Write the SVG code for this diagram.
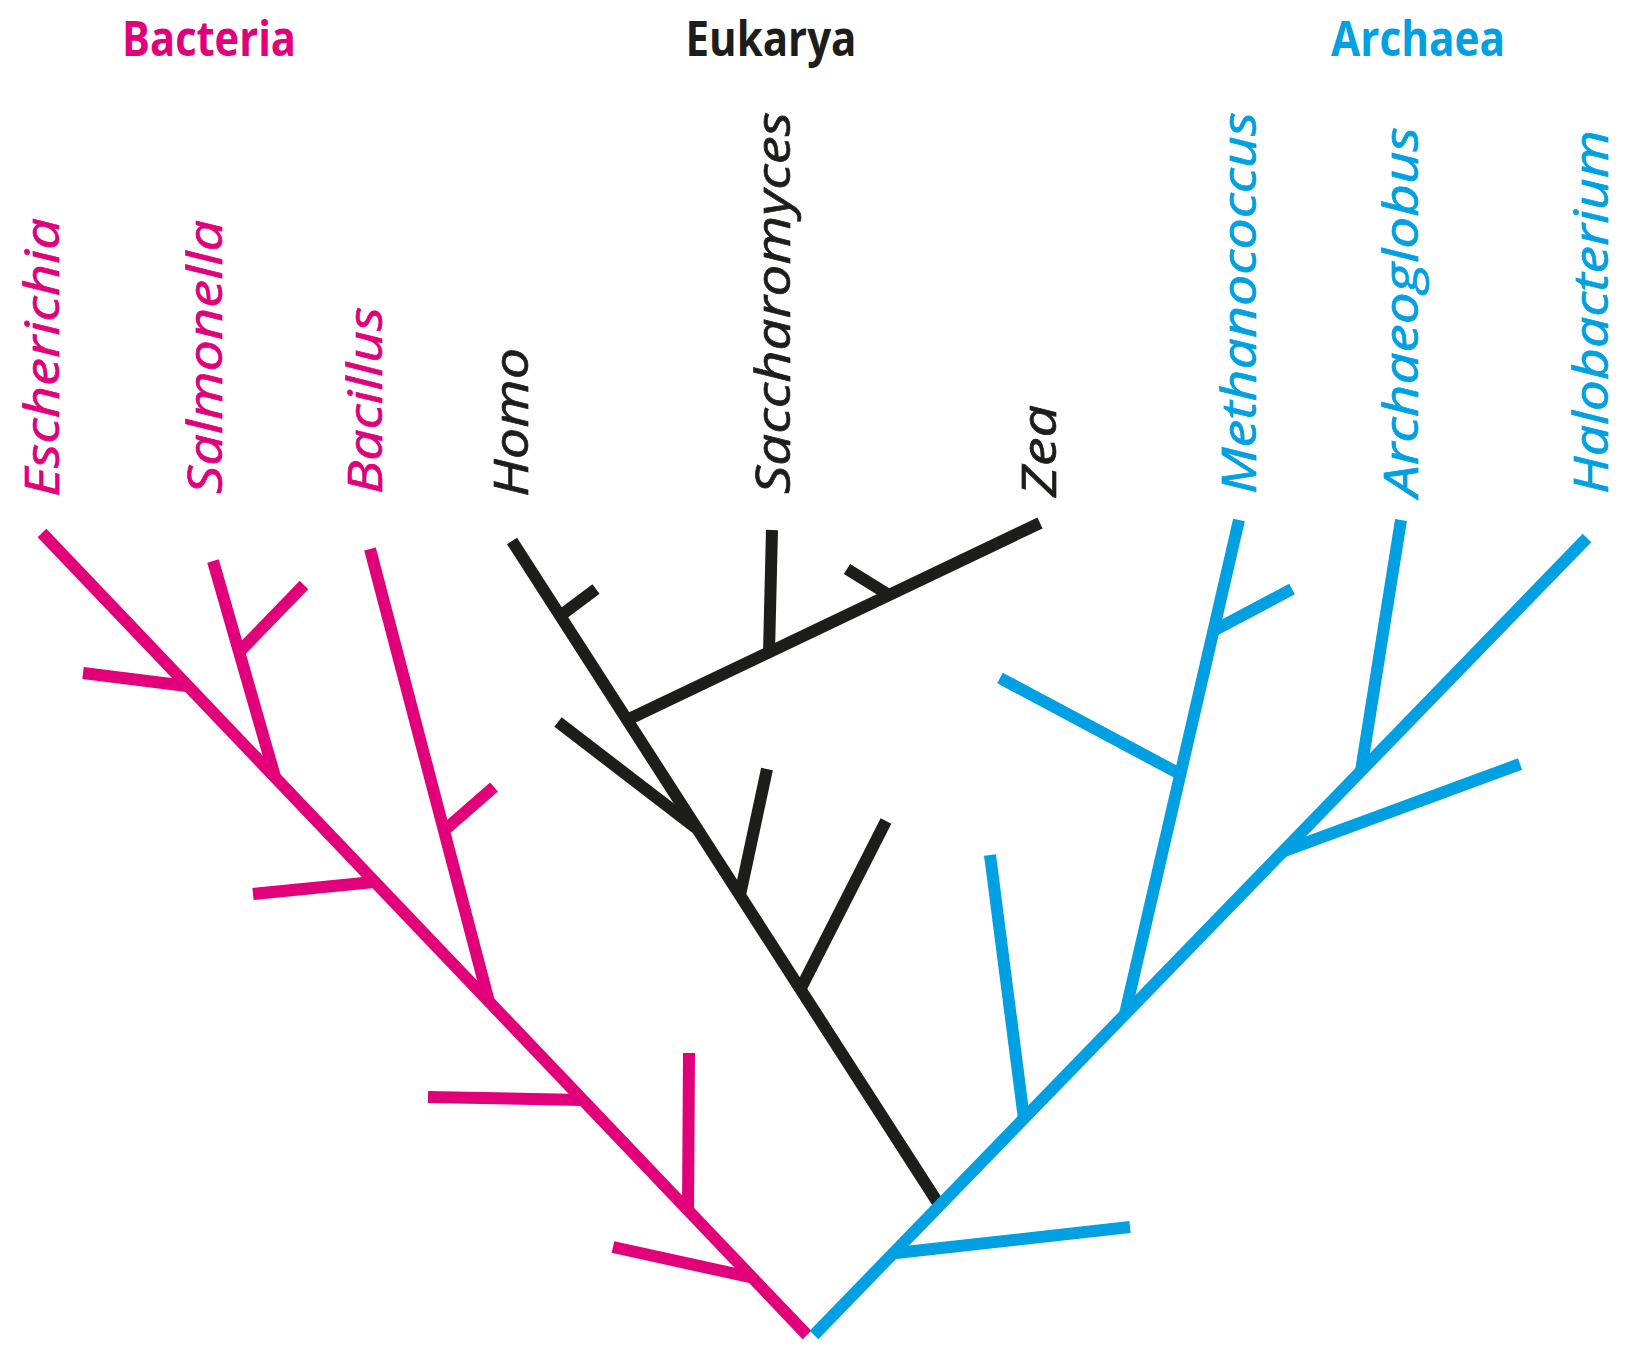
<svg xmlns="http://www.w3.org/2000/svg" width="1630" height="1351" viewBox="0 0 1630 1351">
<style>
.title{font-family:"Open Sans","Liberation Sans",sans-serif;font-weight:bold;font-size:48px;text-anchor:middle}
.taxon{font-family:"Open Sans","Liberation Sans",sans-serif;font-style:italic;font-size:48px;stroke-width:0.7}
.pink{fill:#E2007A;stroke:#E2007A}
.black{fill:#1D1D1B;stroke:#1D1D1B}
.blue{fill:#00A0E2;stroke:#00A0E2}
.title.pink,.title.black,.title.blue{stroke:none}
.br{fill:none;stroke-width:12;stroke-linecap:butt;stroke-linejoin:miter}
.bp{stroke:#E2007A}
.bk{stroke:#1D1D1B}
.bb{stroke:#00A0E2}
</style>
<rect width="1630" height="1351" fill="#ffffff"/>
<g id="connectors">
  <g id="bacteria-tree" class="br bp">
    <line x1="42" y1="533" x2="807" y2="1335"/>
    <line x1="83" y1="673" x2="187" y2="686"/>
    <line x1="213" y1="561" x2="275" y2="777"/>
    <line x1="241" y1="650" x2="304" y2="585"/>
    <line x1="253" y1="894" x2="374" y2="882"/>
    <line x1="370" y1="549" x2="489" y2="1002"/>
    <line x1="447" y1="828" x2="494" y2="787"/>
    <line x1="428" y1="1097" x2="582" y2="1100"/>
    <line x1="689" y1="1053" x2="688" y2="1210"/>
    <line x1="613" y1="1247" x2="754" y2="1278"/>
  </g>
  <g id="eukarya-tree" class="br bk">
    <line x1="512" y1="541" x2="938" y2="1203"/>
    <line x1="560" y1="616" x2="596" y2="589"/>
    <line x1="627" y1="720" x2="1040" y2="523"/>
    <line x1="772" y1="530" x2="769" y2="652"/>
    <line x1="847" y1="569" x2="889" y2="595"/>
    <line x1="558" y1="722" x2="696" y2="828"/>
    <line x1="767" y1="769" x2="740" y2="895"/>
    <line x1="886" y1="821" x2="800" y2="990"/>
  </g>
  <g id="archaea-tree" class="br bb">
    <line x1="814" y1="1335" x2="1587" y2="538"/>
    <line x1="896" y1="1253" x2="1130" y2="1227"/>
    <line x1="990" y1="855" x2="1024" y2="1119"/>
    <line x1="1239" y1="520" x2="1125" y2="1014"/>
    <line x1="1000" y1="678" x2="1180" y2="774"/>
    <line x1="1213" y1="631" x2="1292" y2="589"/>
    <line x1="1284" y1="851" x2="1520" y2="764"/>
    <line x1="1401" y1="520" x2="1361" y2="771"/>
  </g>
</g>
<g id="title-bacteria"><text class="title pink" x="209" y="56" textLength="174" lengthAdjust="spacingAndGlyphs">Bacteria</text></g>
<g id="title-eukarya"><text class="title black" x="771" y="56" textLength="171" lengthAdjust="spacingAndGlyphs">Eukarya</text></g>
<g id="title-archaea"><text class="title blue" x="1418" y="56" textLength="174" lengthAdjust="spacingAndGlyphs">Archaea</text></g>
<g id="node-escherichia"><text class="taxon pink" transform="translate(59,497) rotate(-90)" textLength="279" lengthAdjust="spacingAndGlyphs">Escherichia</text></g>
<g id="node-salmonella"><text class="taxon pink" transform="translate(222,494) rotate(-90)" textLength="274" lengthAdjust="spacingAndGlyphs">Salmonella</text></g>
<g id="node-bacillus"><text class="taxon pink" transform="translate(382,494) rotate(-90)" textLength="187" lengthAdjust="spacingAndGlyphs">Bacillus</text></g>
<g id="node-homo"><text class="taxon black" transform="translate(528,497) rotate(-90)" textLength="149" lengthAdjust="spacingAndGlyphs">Homo</text></g>
<g id="node-saccharomyces"><text class="taxon black" transform="translate(790,494) rotate(-90)" textLength="382" lengthAdjust="spacingAndGlyphs">Saccharomyces</text></g>
<g id="node-zea"><text class="taxon black" transform="translate(1056,497) rotate(-90)" textLength="92" lengthAdjust="spacingAndGlyphs">Zea</text></g>
<g id="node-methanococcus"><text class="taxon blue" transform="translate(1256,494) rotate(-90)" textLength="382" lengthAdjust="spacingAndGlyphs">Methanococcus</text></g>
<g id="node-archaeoglobus"><text class="taxon blue" transform="translate(1418,497) rotate(-90)" textLength="370" lengthAdjust="spacingAndGlyphs">Archaeoglobus</text></g>
<g id="node-halobacterium"><text class="taxon blue" transform="translate(1608,494) rotate(-90)" textLength="364" lengthAdjust="spacingAndGlyphs">Halobacterium</text></g>
</svg>
